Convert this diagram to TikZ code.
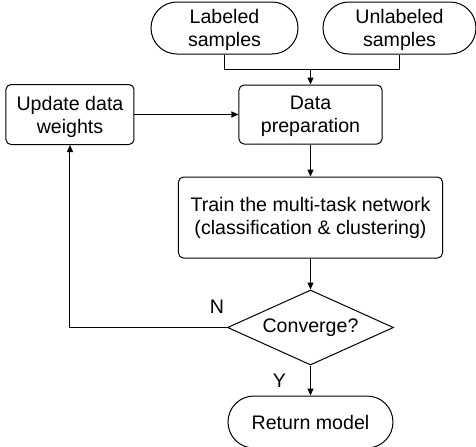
\documentclass[tikz,border=0pt]{standalone}
\usepackage{fontspec}
\setmainfont{Liberation Sans}
\usetikzlibrary{shapes.geometric, arrows.meta, positioning}
\tikzset{
  terminal/.style={rectangle,rounded corners=13pt,draw=black,fill=white,line width=0.5pt,
    minimum height=26pt,inner sep=0pt,align=center,font=\fontsize{9.8}{11.5}\selectfont},
  process/.style={rectangle,rounded corners=2.5pt,draw=black,fill=white,line width=0.5pt,
    inner sep=0pt,align=center,font=\fontsize{9.8}{11.5}\selectfont},
  decision/.style={diamond,draw=black,fill=white,line width=0.5pt,aspect=2.2,
    minimum width=83pt,minimum height=37.5pt,inner sep=0pt,font=\fontsize{9.8}{11.5}\selectfont},
  arrow/.style={-{Triangle[length=3.5pt,width=3pt]},line width=0.5pt,draw=black},
  link/.style={line width=0.5pt,draw=black},
  lbl/.style={inner sep=0pt,font=\fontsize{9.8}{11.5}\selectfont}
}
\begin{document}
\begin{tikzpicture}[node distance=15.5pt and 52pt]
  \useasboundingbox (-155.25pt,57.25pt) rectangle (82.75pt,-165.75pt);

  \node[process, minimum width=71.5pt, minimum height=29.5pt, text depth=0pt] (dp) at (0,0) {Data\\ preparation};
  \node[process, minimum width=64pt, minimum height=30pt, text depth=0pt, left=of dp] (upd) {Update data\\ weights};
  \node[terminal, minimum width=73.5pt, text depth=0pt, above=15pt of dp, xshift=-43pt] (lab) {Labeled\\ samples};
  \node[terminal, minimum width=76.5pt, text depth=0pt, right=12pt of lab] (unlab) {Unlabeled\\ samples};
  \node[process, minimum width=132pt, minimum height=40.5pt, below=16pt of dp] (train)
    {Train the multi-task network\\ (classification \& clustering)};
  \node[decision, below=of train] (conv) {Converge?};
  \node[terminal, minimum width=82.5pt, below=15pt of conv] (ret) {Return model};
  \coordinate[above=7.5pt of dp] (join);

  % both sample sets merge before preparation
  \draw[link] (lab.south) |- (join);
  \draw[link] (unlab.south) |- (join);
  \draw[arrow] (join) -- (dp);
  \draw[arrow] (upd) -- (dp);
  \draw[arrow] (dp) -- (train);
  \draw[arrow] (train) -- (conv);
  \draw[arrow] (conv) -- node[lbl, midway, left=12pt] {Y} (ret);
  \draw[arrow] (conv.west) -| node[lbl, pos=0.032, above=7pt] {N} (upd.south);
\end{tikzpicture}
\end{document}
